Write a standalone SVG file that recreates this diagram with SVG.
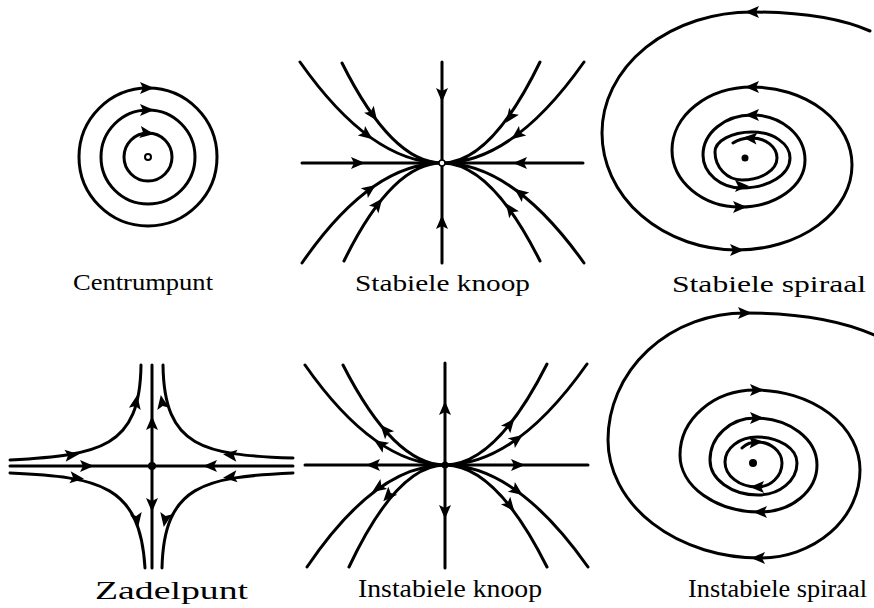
<svg xmlns="http://www.w3.org/2000/svg" xmlns:xlink="http://www.w3.org/1999/xlink" width="874" height="608" viewBox="0 0 874 608">
<defs>
<path id="ah" d="M7,0 L-7,-6 L-4,0 L-7,6 Z"/>
<style>
.ln{fill:none;stroke:#000;stroke-width:3;stroke-linecap:round;stroke-linejoin:round}
.ar{fill:#000}
.lbl{font-family:"Liberation Serif","Times New Roman",serif;font-size:24px;fill:#000}
.lbl2{font-family:"Liberation Serif","Times New Roman",serif;font-size:25px;fill:#000}
</style>
</defs>
<rect width="874" height="608" fill="#fff"/>

<g id="centrumpunt">
<circle class="ln" cx="148" cy="157" r="69"/>
<circle class="ln" cx="148" cy="157" r="47"/>
<circle class="ln" cx="148" cy="157" r="24"/>
<circle cx="148" cy="157" r="3" fill="none" stroke="#000" stroke-width="2"/>
<g class="ar">
<use xlink:href="#ah" transform="translate(147,88)"/>
<use xlink:href="#ah" transform="translate(147,110)"/>
<use xlink:href="#ah" transform="translate(147,133) rotate(8)"/>
</g>
<text class="lbl" x="73" y="290" textLength="140" lengthAdjust="spacingAndGlyphs">Centrumpunt</text>
</g>

<g id="stabiele-knoop">
<path class="ln" d="M442,62 L442,263 M302,163 L583,163"/>
<path class="ln" d="M442,163 Q371,163 300,62 M442,163 Q392,163 342,63 M442,163 Q491,163 540,62 M442,163 Q513,163 584,62 M442,163 Q371,163 302,263 M442,163 Q392,163 344,261 M442,163 Q491,163 540,261 M442,163 Q513,163 584,263"/>
<circle cx="442" cy="163" r="3" fill="#fff" stroke="#000" stroke-width="1.5"/>
<g class="ar">
<use xlink:href="#ah" transform="translate(367,135) rotate(37)"/>
<use xlink:href="#ah" transform="translate(373,115) rotate(54)"/>
<use xlink:href="#ah" transform="translate(510,117) rotate(126)"/>
<use xlink:href="#ah" transform="translate(517,135) rotate(143)"/>
<use xlink:href="#ah" transform="translate(370,189) rotate(-36)"/>
<use xlink:href="#ah" transform="translate(378,204) rotate(-52)"/>
<use xlink:href="#ah" transform="translate(510,209) rotate(234)"/>
<use xlink:href="#ah" transform="translate(520,193) rotate(218)"/>
<use xlink:href="#ah" transform="translate(358,163)"/>
<use xlink:href="#ah" transform="translate(520,163) rotate(180)"/>
<use xlink:href="#ah" transform="translate(442,95) rotate(90)"/>
<use xlink:href="#ah" transform="translate(442,222) rotate(-90)"/>
</g>
<text class="lbl" x="355" y="291" textLength="175" lengthAdjust="spacingAndGlyphs">Stabiele knoop</text>
</g>

<g id="stabiele-spiraal">
<path class="ln" d="M870,31 C840,18 800,12 752,12 A150,121 0 0 0 602,133 A135,117 0 0 0 737,250 A115,85 0 0 0 852,165 A100,78 0 0 0 752,87 A80,63 0 0 0 672,150 A68,57 0 0 0 740,207 A65,47 0 0 0 805,160 A53,45 0 0 0 752,115 A49,40 0 0 0 703,155 A39,33 0 0 0 742,188 A48,30 0 0 0 790,158 A38,26 0 0 0 752,132 A37,20 0 0 0 715,152 A27,28 0 0 0 742,180 A35,22 0 0 0 777,158 A25,20 0 0 0 752,138 Q740,138 733,143"/>
<circle cx="745" cy="158" r="3.5" fill="#000"/>
<g class="ar">
<use xlink:href="#ah" transform="translate(752,12) rotate(180)"/>
<use xlink:href="#ah" transform="translate(752,87) rotate(180)"/>
<use xlink:href="#ah" transform="translate(752,115) rotate(180)"/>
<use xlink:href="#ah" transform="translate(750,138) rotate(185)"/>
<use xlink:href="#ah" transform="translate(737,250)"/>
<use xlink:href="#ah" transform="translate(740,207)"/>
<use xlink:href="#ah" transform="translate(742,186)"/>
</g>
<text class="lbl" x="672" y="292" textLength="194" lengthAdjust="spacingAndGlyphs">Stabiele spiraal</text>
</g>

<g id="zadelpunt">
<path class="ln" d="M10,466 L293,466 M152,365 L152,568"/>
<path class="ln" d="M10,460 C100,455 140,448 141,365 M293,458 C204,455 164,448 163,365 M10,473 C100,477 140,485 145,568 M293,473 C204,477 164,485 162,568"/>
<circle cx="152" cy="466" r="4" fill="#000"/>
<g class="ar">
<use xlink:href="#ah" transform="translate(72,455) rotate(-6)"/>
<use xlink:href="#ah" transform="translate(136,402) rotate(-80)"/>
<use xlink:href="#ah" transform="translate(87,466)"/>
<use xlink:href="#ah" transform="translate(152,423) rotate(-90)"/>
<use xlink:href="#ah" transform="translate(230,455) rotate(186)"/>
<use xlink:href="#ah" transform="translate(162,402) rotate(-100)"/>
<use xlink:href="#ah" transform="translate(210,466) rotate(180)"/>
<use xlink:href="#ah" transform="translate(77,478) rotate(6)"/>
<use xlink:href="#ah" transform="translate(137,520) rotate(80)"/>
<use xlink:href="#ah" transform="translate(152,505) rotate(90)"/>
<use xlink:href="#ah" transform="translate(230,477) rotate(174)"/>
<use xlink:href="#ah" transform="translate(165,520) rotate(100)"/>
</g>
<text class="lbl2" x="95" y="599" textLength="153" lengthAdjust="spacingAndGlyphs">Zadelpunt</text>
</g>

<g id="instabiele-knoop">
<path class="ln" d="M445,363 L445,568 M305,465 L588,465"/>
<path class="ln" d="M445,465 Q375,465 305,365 M445,465 Q394,465 343,365 M445,465 Q496,465 547,364 M445,465 Q516,465 587,364 M445,465 Q376,465 307,567 M445,465 Q397,465 349,567 M445,465 Q496,465 547,567 M445,465 Q516,465 588,567"/>
<circle cx="445" cy="465" r="3.5" fill="#000"/>
<g class="ar">
<use xlink:href="#ah" transform="translate(380,444) rotate(213)"/>
<use xlink:href="#ah" transform="translate(385,430) rotate(229)"/>
<use xlink:href="#ah" transform="translate(510,424) rotate(-51)"/>
<use xlink:href="#ah" transform="translate(517,439) rotate(-36)"/>
<use xlink:href="#ah" transform="translate(378,488) rotate(146)"/>
<use xlink:href="#ah" transform="translate(388,496) rotate(132)"/>
<use xlink:href="#ah" transform="translate(510,506) rotate(51)"/>
<use xlink:href="#ah" transform="translate(517,491) rotate(36)"/>
<use xlink:href="#ah" transform="translate(373,465) rotate(180)"/>
<use xlink:href="#ah" transform="translate(518,465)"/>
<use xlink:href="#ah" transform="translate(445,408) rotate(-90)"/>
<use xlink:href="#ah" transform="translate(445,512) rotate(90)"/>
</g>
<text class="lbl2" x="358" y="597" textLength="184" lengthAdjust="spacingAndGlyphs">Instabiele knoop</text>
</g>

<g id="instabiele-spiraal">
<path class="ln" d="M874,335 C840,320 800,313 745,313 A137,127 0 0 0 608,440 A152,118 0 0 0 760,558 A100,88 0 0 0 860,470 A105,80 0 0 0 755,390 A75,65 0 0 0 680,455 A80,57 0 0 0 760,512 A57,47 0 0 0 817,465 A62,47 0 0 0 755,418 A45,42 0 0 0 710,460 A48,35 0 0 0 758,495 A39,32 0 0 0 797,463 A40,26 0 0 0 757,437 A32,25 0 0 0 725,462 A32,25 0 0 0 757,487 A25,24 0 0 0 782,463 A25,21 0 0 0 757,442 Q748,442 742,448"/>
<circle cx="753" cy="463" r="4" fill="#000"/>
<g class="ar">
<use xlink:href="#ah" transform="translate(745,313)"/>
<use xlink:href="#ah" transform="translate(757,390)"/>
<use xlink:href="#ah" transform="translate(757,418)"/>
<use xlink:href="#ah" transform="translate(756,442) rotate(-5)"/>
<use xlink:href="#ah" transform="translate(758,558) rotate(180)"/>
<use xlink:href="#ah" transform="translate(760,512) rotate(180)"/>
<use xlink:href="#ah" transform="translate(757,487) rotate(180)"/>
</g>
<text class="lbl2" x="688" y="597" textLength="179" lengthAdjust="spacingAndGlyphs">Instabiele spiraal</text>
</g>
</svg>
